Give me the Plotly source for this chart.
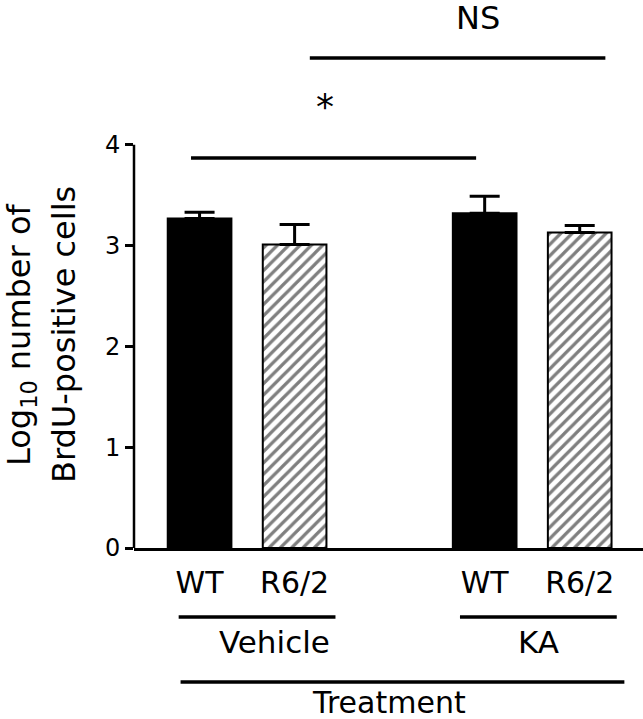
import plotly.graph_objects as go

# ---- data ----
genotypes = ["WT", "R6/2", "WT", "R6/2"]
treatments = ["Vehicle", "Vehicle", "KA", "KA"]
group_names = ["Vehicle", "KA"]
axis_group = "Treatment"
means = [3.27, 3.01, 3.32, 3.13]
sems = [0.06, 0.20, 0.17, 0.07]
ytick_vals = [0, 1, 2, 3, 4]
sig_labels = ["*", "NS"]

# ---- layout helpers ----
W, H = 643, 719
ML, MR, MT, MB = 134, 0, 4, 171
FONT = "DejaVu Sans"
xpos = [0, 1, 3, 4]
XMIN, XMAX = -0.69, 4.666
plot_h = H - MT - MB
YMAX = plot_h / 100.8
bar_w = 0.67


def xp(x):
    return (x - XMIN) / (XMAX - XMIN)


def yp_px(px_below):
    # paper y for a pixel offset below the x-axis line
    return -px_below / plot_h


fig = go.Figure()

wt_idx = [i for i, g in enumerate(genotypes) if g == "WT"]
r6_idx = [i for i, g in enumerate(genotypes) if g == "R6/2"]

fig.add_trace(go.Bar(
    x=[xpos[i] for i in wt_idx], y=[means[i] for i in wt_idx],
    width=bar_w,
    marker=dict(color="black", line=dict(color="black", width=2)),
    error_y=dict(type="data", symmetric=False,
                 array=[sems[i] for i in wt_idx],
                 arrayminus=[0 for _ in wt_idx],
                 color="black", thickness=3, width=15),
    showlegend=False, hoverinfo="skip",
))
fig.add_trace(go.Bar(
    x=[xpos[i] for i in r6_idx], y=[means[i] for i in r6_idx],
    width=bar_w,
    marker=dict(color="white", line=dict(color="black", width=2),
                pattern=dict(shape="/", fgcolor="black", bgcolor="white",
                             size=8, solidity=0.4, fillmode="overlay")),
    error_y=dict(type="data", symmetric=False,
                 array=[sems[i] for i in r6_idx],
                 arrayminus=[0 for _ in r6_idx],
                 color="black", thickness=3, width=15),
    showlegend=False, hoverinfo="skip",
))

shapes = []
annotations = []
LW = 3.5

# y axis line from 0 to 4 only
shapes.append(dict(type="line", xref="paper", yref="paper",
                   x0=0, x1=0, y0=0, y1=4 / YMAX,
                   line=dict(color="black", width=2.5)))

# significance bars
shapes.append(dict(type="line", xref="x", yref="y", x0=-0.09, x1=2.91,
                   y0=3.87, y1=3.87, line=dict(color="black", width=LW)))
annotations.append(dict(x=1.32, y=4.38, xref="x", yref="y", text=sig_labels[0],
                        showarrow=False, font=dict(family=FONT, size=36, color="black"),
                        xanchor="center", yanchor="middle"))
shapes.append(dict(type="line", xref="x", yref="y", x0=1.16, x1=4.27,
                   y0=4.86, y1=4.86, line=dict(color="black", width=LW)))
annotations.append(dict(x=2.93, y=5.26, xref="x", yref="y", text=sig_labels[1],
                        showarrow=False, font=dict(family=FONT, size=32, color="black"),
                        xanchor="center", yanchor="middle"))

# group lines and labels
group_line = {"Vehicle": (-0.22, 1.43), "KA": (2.74, 4.39)}
group_text_x = {"Vehicle": 0.79, "KA": 3.57}
for g in group_names:
    x0, x1 = group_line[g]
    shapes.append(dict(type="line", xref="paper", yref="paper",
                       x0=xp(x0), x1=xp(x1), y0=yp_px(69), y1=yp_px(69),
                       line=dict(color="black", width=LW)))
    annotations.append(dict(x=xp(group_text_x[g]), y=yp_px(94), xref="paper", yref="paper",
                            text=g, showarrow=False,
                            font=dict(family=FONT, size=31, color="black"),
                            xanchor="center", yanchor="middle"))

shapes.append(dict(type="line", xref="paper", yref="paper",
                   x0=xp(-0.2), x1=xp(4.47), y0=yp_px(134), y1=yp_px(134),
                   line=dict(color="black", width=LW)))
annotations.append(dict(x=xp(1.99), y=yp_px(136), xref="paper", yref="paper",
                        text=axis_group, showarrow=False, borderpad=0,
                        font=dict(family=FONT, size=30, color="black"),
                        xanchor="center", yanchor="top"))

# y-axis title (two lines)
title_lines = ["Log<sub>10</sub> number of", "BrdU-positive cells"]
title_px = [21, 64]
for t, px in zip(title_lines, title_px):
    annotations.append(dict(x=(px - ML) / (W - ML - MR), y=(548 - 335) / plot_h,
                            xref="paper", yref="paper", text=t, textangle=-90,
                            showarrow=False, borderpad=0,
                            font=dict(family=FONT, size=32, color="black"),
                            xanchor="center", yanchor="middle"))

fig.update_layout(
    width=W, height=H,
    margin=dict(l=ML, r=MR, t=MT, b=MB),
    paper_bgcolor="white", plot_bgcolor="white",
    barmode="overlay",
    shapes=shapes, annotations=annotations,
    font=dict(family=FONT, color="black"),
)
fig.update_xaxes(
    range=[XMIN, XMAX], showgrid=False, zeroline=False,
    showline=True, linecolor="black", linewidth=2.5,
    tickvals=xpos, ticktext=genotypes, ticks="",
    tickfont=dict(family=FONT, size=30, color="black"),
    ticklabelstandoff=6,
)
fig.update_yaxes(
    range=[0, YMAX], showgrid=False, zeroline=False, showline=False,
    tickvals=ytick_vals, ticktext=[str(v) for v in ytick_vals],
    ticks="outside", ticklen=8, tickwidth=2.5, tickcolor="black",
    tickfont=dict(family=FONT, size=24, color="black"),
)

fig.write_html("out.html", config={"displayModeBar": False},
               post_script="document.body.style.margin='0';")
